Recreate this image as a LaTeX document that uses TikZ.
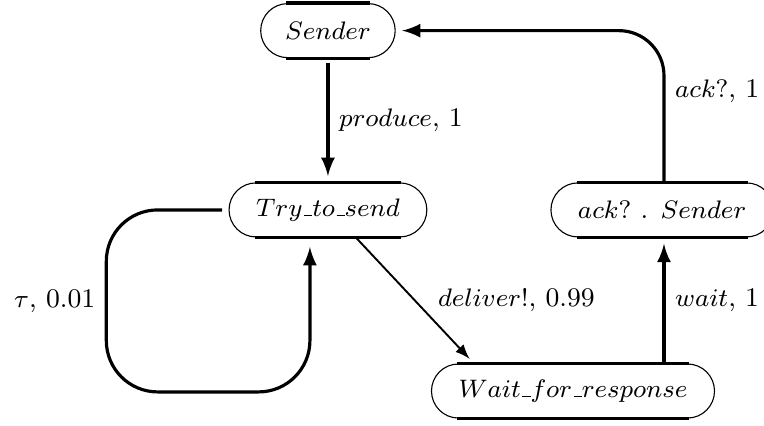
\documentclass[tikz,border=0pt]{standalone}
\usepackage{amsmath}
\usepackage{tikz}

% old style low rule for names
\newcommand{\usc}{\mathord{\kern.06em\vbox{\hrule width.3em height.5pt}}}

\tikzset{
  every node/.style={font=\fontsize{8.5}{10}\selectfont},
  proc/.style={draw, line width=0.35pt, rectangle, rounded corners=0.3cm,
    inner xsep=0.3cm, minimum height=0.6cm},
  trans/.style={->, >=latex, line width=1pt, shorten >=2pt},
  lbl/.style={inner sep=3pt},
}

\begin{document}
\begin{tikzpicture}
			\useasboundingbox (0,0) rectangle (8.48,4.72);

			\node[proc, inner xsep=0.27cm] (snd) at (3.64,4.38) {$Sender$};
			\node[proc, below of=snd, yshift=-0.99cm] (try) {$Try\usc to\usc send$};
			\node[proc, right of=try, xshift=2.71cm] (ack) {$ack?$ . $Sender$};
			\node[proc, below of=ack, xshift=-0.99cm, yshift=-1.01cm] (wait) {$Wait\usc for\usc response$};

			% thick straight edges of the states
			\foreach \n in {snd,try,ack,wait} {
				\draw[line width=1pt] ([xshift=0.29cm]\n.north west) -- ([xshift=-0.29cm]\n.north east);
				\draw[line width=1pt] ([xshift=0.29cm]\n.south west) -- ([xshift=-0.29cm]\n.south east);
			}

			\coordinate (loop) at (1.18,0.37);

			\draw[trans, shorten <=1.5pt] (snd) -- (try) node[lbl, midway, right] {$produce$, 1};
			\draw[trans, rounded corners=0.57cm, shorten <=2pt, shorten >=3pt] (try.west) -| node[lbl, pos=0.75, left] {$\tau$, 0.01} (loop) -| ([xshift=-0.2cm]try.south);
			\draw[trans, line width=0.6pt] ([xshift=0.31cm]try.south) -- ([xshift=-1.1cm]wait.north) node[lbl, midway, right, xshift=4pt] {$deliver!$, 0.99};
			\draw[trans] ([xshift=0.02cm]ack |- wait.north) -- ([xshift=0.02cm]ack.south) node[lbl, midway, right] {$wait$, 1};
			\draw[trans, rounded corners=0.5cm] ([xshift=0.02cm]ack.north) |- node[lbl, pos=0.3, right] {$ack?$, 1} (snd);

\end{tikzpicture}
\end{document}
